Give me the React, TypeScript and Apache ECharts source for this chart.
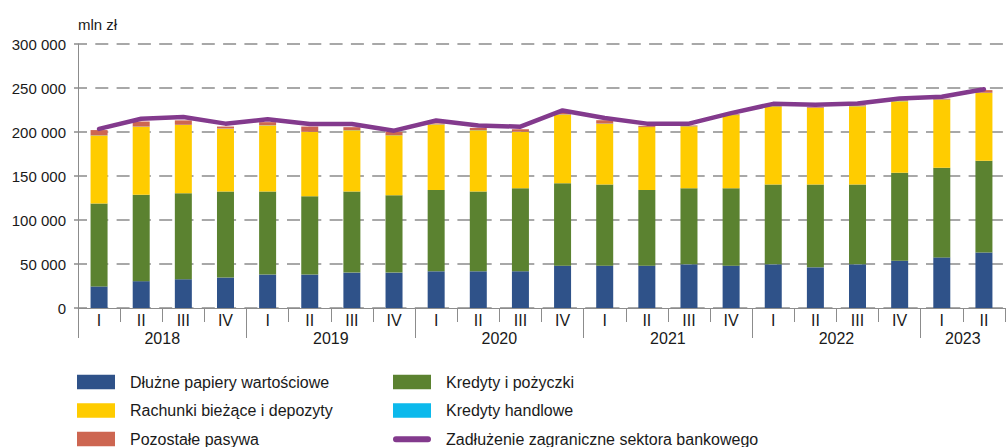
import React, { useEffect, useRef } from 'react';
import * as echarts from 'echarts';

// Categories
const quarters = ['I', 'II', 'III', 'IV', 'I', 'II', 'III', 'IV', 'I', 'II', 'III', 'IV', 'I', 'II', 'III', 'IV', 'I', 'II', 'III', 'IV', 'I', 'II'];
const years = ['2018', '2019', '2020', '2021', '2022', '2023'];
const quartersPerYear = [4, 4, 4, 4, 4, 2];

// Values, mln zł
const debtSecurities = [24500, 30500, 32700, 34600, 38000, 38000, 40200, 40200, 41700, 41700, 41700, 48100, 48100, 48100, 49600, 48100, 49600, 46200, 49600, 53800, 57500, 63200];
const loans = [94300, 98100, 97800, 97700, 94300, 89000, 92100, 88000, 92500, 90600, 94300, 93600, 92100, 86100, 86400, 87900, 90600, 94000, 90600, 100000, 101900, 104100];
const deposits = [77200, 77400, 77500, 71500, 75200, 73000, 69600, 68000, 74400, 69600, 64000, 78200, 69200, 71400, 70400, 83200, 89100, 87200, 89100, 81200, 77400, 77100];
const tradeCredits = [200, 200, 200, 200, 200, 200, 200, 200, 200, 200, 200, 200, 200, 200, 200, 200, 200, 200, 200, 200, 200, 200];
const otherLiabilities = [6000, 5700, 5000, 2200, 3500, 6000, 3400, 3800, 1000, 2600, 3000, 1500, 3800, 1200, 800, 800, 800, 800, 800, 800, 800, 3000];
const foreignDebt = [203500, 215000, 217000, 209500, 214500, 209000, 209000, 201500, 213000, 207500, 206000, 224500, 216000, 209500, 209500, 221500, 232000, 231000, 232500, 238000, 240000, 248500];

const FONT = "'Liberation Sans', Arial, sans-serif";
const GREY = '#8c8c8c';
const TEXT = '#1a1a1a';

const rectIcon = 'path://M0,0L38,0L38,14.5L0,14.5Z M48,0L48,0.01Z';
const lineIcon = 'path://M0,0L0,0.01Z M3,4.5L35,4.5A3,3 0 0 1 35,10.5L3,10.5A3,3 0 0 1 3,4.5Z M48,14.5L48,14.49Z';

function buildYearAxis(): { data: string[]; ticks: number[] } {
  const data: string[] = [];
  const ticks: number[] = [];
  const total = quartersPerYear.reduce((a, b) => a + b, 0);
  for (let i = 0; i <= total; i++) data.push('');
  let pos = 0;
  years.forEach((y, i) => {
    ticks.push(pos);
    data[pos + quartersPerYear[i] / 2] = y;
    pos += quartersPerYear[i];
  });
  return { data, ticks };
}

function fmt(v: number): string {
  return String(v).replace(/\B(?=(\d{3})+(?!\d))/g, ' ');
}

export default function App() {
  const ref = useRef<HTMLDivElement>(null);
  useEffect(() => {
    document.body.style.margin = '0';
    if (!ref.current) return;
    const chart = echarts.init(ref.current, null, { renderer: 'svg' });
    const yearAxis = buildYearAxis();
    const barBase = { type: 'bar', stack: 'total', barWidth: 17, xAxisIndex: 0, yAxisIndex: 0 };
    const legendBase = {
      orient: 'vertical',
      top: 374,
      height: 90,
      padding: 0,
      itemWidth: 48,
      itemHeight: 14.5,
      itemGap: 12.5,
      textStyle: { color: TEXT, fontSize: 16, fontFamily: FONT },
    };
    chart.setOption({
      animation: false,
      textStyle: { fontFamily: FONT },
      grid: { left: 78, right: -7, top: 44, bottom: 139, containLabel: false },
      xAxis: [
        {
          type: 'category',
          data: quarters,
          position: 'bottom',
          axisLine: { show: true, lineStyle: { color: GREY, width: 1 } },
          axisTick: { show: true, length: 14, alignWithLabel: false, lineStyle: { color: GREY } },
          axisLabel: { interval: 0, margin: 4, color: TEXT, fontSize: 16, fontFamily: FONT },
          splitLine: { show: false },
        },
        {
          type: 'category',
          data: yearAxis.data,
          boundaryGap: false,
          position: 'bottom',
          axisLine: { show: false },
          axisTick: {
            show: true,
            length: 30,
            interval: (i: number) => yearAxis.ticks.indexOf(i) >= 0,
            lineStyle: { color: GREY },
          },
          axisLabel: { interval: 0, margin: 22, color: TEXT, fontSize: 16, fontFamily: FONT },
          splitLine: { show: false },
        },
      ],
      yAxis: {
        type: 'value',
        min: 0,
        max: 300000,
        interval: 50000,
        name: 'mln zł',
        nameLocation: 'end',
        nameGap: 20,
        nameTextStyle: { align: 'left', verticalAlign: 'middle', color: TEXT, fontSize: 15, fontFamily: FONT },
        axisLine: { show: true, lineStyle: { color: GREY, width: 1 } },
        axisTick: { show: true, length: 4, lineStyle: { color: GREY, width: 1.5 } },
        axisLabel: { formatter: fmt, margin: 12, color: TEXT, fontSize: 15, fontFamily: FONT },
        splitLine: { show: true, lineStyle: { color: GREY, width: 1.5, type: [13, 8.3], dashOffset: 4 } },
      },
      legend: [
        {
          ...legendBase,
          left: 77,
          data: [
            { name: 'Dłużne papiery wartościowe', icon: rectIcon },
            { name: 'Rachunki bieżące i depozyty', icon: rectIcon },
            { name: 'Pozostałe pasywa', icon: rectIcon },
          ],
        },
        {
          ...legendBase,
          left: 393,
          data: [
            { name: 'Kredyty i pożyczki', icon: rectIcon },
            { name: 'Kredyty handlowe', icon: rectIcon },
            { name: 'Zadłużenie zagraniczne sektora bankowego', icon: lineIcon, itemStyle: { borderWidth: 0 } },
          ],
        },
      ],
      series: [
        { ...barBase, name: 'Dłużne papiery wartościowe', data: debtSecurities, itemStyle: { color: '#2F5289' } },
        { ...barBase, name: 'Kredyty i pożyczki', data: loans, itemStyle: { color: '#5B8230' } },
        { ...barBase, name: 'Rachunki bieżące i depozyty', data: deposits, itemStyle: { color: '#FFCC00' } },
        { ...barBase, name: 'Kredyty handlowe', data: tradeCredits, itemStyle: { color: '#0CB9EC' } },
        { ...barBase, name: 'Pozostałe pasywa', data: otherLiabilities, itemStyle: { color: '#CD6651' } },
        {
          type: 'line',
          name: 'Zadłużenie zagraniczne sektora bankowego',
          data: foreignDebt,
          xAxisIndex: 0,
          yAxisIndex: 0,
          symbol: 'none',
          z: 5,
          color: '#833A8D',
          lineStyle: { color: '#833A8D', width: 4.5, cap: 'round', join: 'round' },
          itemStyle: { color: '#833A8D' },
        },
      ],
    });
    return () => chart.dispose();
  }, []);
  return <div ref={ref} style={{ width: 1008, height: 447 }} />;
}
